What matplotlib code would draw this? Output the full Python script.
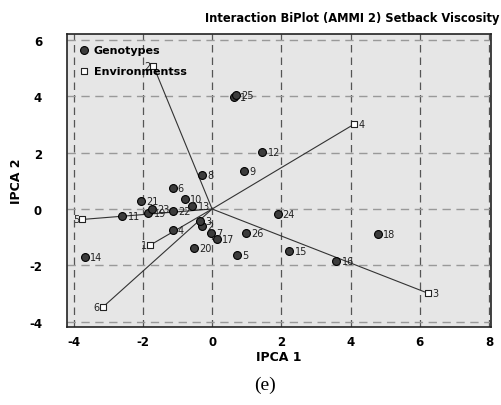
import matplotlib.pyplot as plt

plt.rcParams["axes.unicode_minus"] = False

# genotype scores (IPCA1, IPCA2)
gen_ids = [1, 2, 3, 4, 5, 6, 7, 8, 9, 10, 11, 12, 13, 14, 15, 16, 17, 18, 19,
           20, 21, 22, 23, 24, 25, 26]
gen_x = [0.64, -0.30, -0.34, -1.14, 0.71, -1.14, -0.04, -0.28, 0.93, -0.78,
         -2.59, 1.45, -0.57, -3.67, 2.23, 3.59, 0.13, 4.78, -1.84, -0.52,
         -2.05, -1.14, -1.74, 1.89, 0.69, 0.97]
gen_y = [3.96, -0.60, -0.44, -0.73, -1.64, 0.74, -0.85, 1.20, 1.35, 0.35,
         -0.25, 2.02, 0.12, -1.71, -1.49, -1.84, -1.06, -0.89, -0.15, -1.37,
         0.27, -0.08, 0.00, -0.18, 4.05, -0.86]

# environment scores
env_ids = [1, 2, 3, 4, 5, 6]
env_x = [-1.79, -1.70, 6.23, 4.11, -3.75, -3.16]
env_y = [-1.28, 5.08, -2.98, 3.01, -0.37, -3.48]

ticks_x = [-4, -2, 0, 2, 4, 6, 8]
ticks_y = [-4, -2, 0, 2, 4, 6]

fig = plt.figure(figsize=(5.02, 4.06), dpi=100)
ax = fig.add_axes([0.1335, 0.192, 0.845, 0.722])
ax.set_facecolor("#e6e6e6")

for t in ticks_x:
    ax.axvline(t, color="#555555", lw=0.9, ls=(0, (6, 4)), zorder=1)
for t in ticks_y:
    ax.axhline(t, color="#999999", lw=1.0, ls=(0, (6, 4)), zorder=1)

# vectors from origin to environments
for ex, ey in zip(env_x, env_y):
    ax.plot([0, ex], [0, ey], color="#333333", lw=0.8, zorder=2)

ax.scatter(gen_x, gen_y, s=32, color="#3c3c3c", edgecolor="black", lw=0.8,
           zorder=3, label="Genotypes")
ax.scatter(env_x, env_y, s=14, marker="s", facecolor="white",
           edgecolor="#222222", lw=0.8, zorder=3, label="Environmentss")

for i, x, y in zip(gen_ids, gen_x, gen_y):
    ax.text(x + 0.15, y, str(i), fontsize=7, va="center", ha="left",
            color="#222222", zorder=4)
for i, x, y in zip(env_ids, env_x, env_y):
    if x < 0:
        ax.text(x - 0.08, y, str(i), fontsize=7, va="center", ha="right",
                color="#222222", zorder=4)
    else:
        ax.text(x + 0.12, y, str(i), fontsize=7, va="center", ha="left",
                color="#222222", zorder=4)

ax.set_xlim(-4.19, 8.06)
ax.set_ylim(-4.18, 6.2)
ax.set_xticks(ticks_x)
ax.set_yticks(ticks_y)
ax.tick_params(length=0, labelsize=8.5, pad=6)
ax.tick_params(axis="y", pad=18)
for lab in ax.get_xticklabels() + ax.get_yticklabels():
    lab.set_fontweight("bold")
for s in ax.spines.values():
    s.set_color("#222222")
    s.set_linewidth(1.2)

ax.set_xlabel("IPCA 1", fontsize=9, fontweight="bold", labelpad=1)
ax.set_ylabel("IPCA 2", fontsize=9, fontweight="bold", labelpad=4)

leg = ax.legend(loc="upper left", frameon=False, prop={"weight": "bold", "size": 8},
                handletextpad=0.4, borderaxespad=0.6, labelspacing=1.0,
                handlelength=1.0, markerscale=1.0)

fig.text(0.995, 0.955, "Interaction BiPlot (AMMI 2) Setback Viscosity",
         ha="right", va="center", fontsize=8.3, fontweight="bold")
fig.text(0.528, 0.05, "(e)", ha="center", va="center", fontsize=14,
         family="Liberation Serif")

fig.savefig("out.png", dpi=100, facecolor="white")
